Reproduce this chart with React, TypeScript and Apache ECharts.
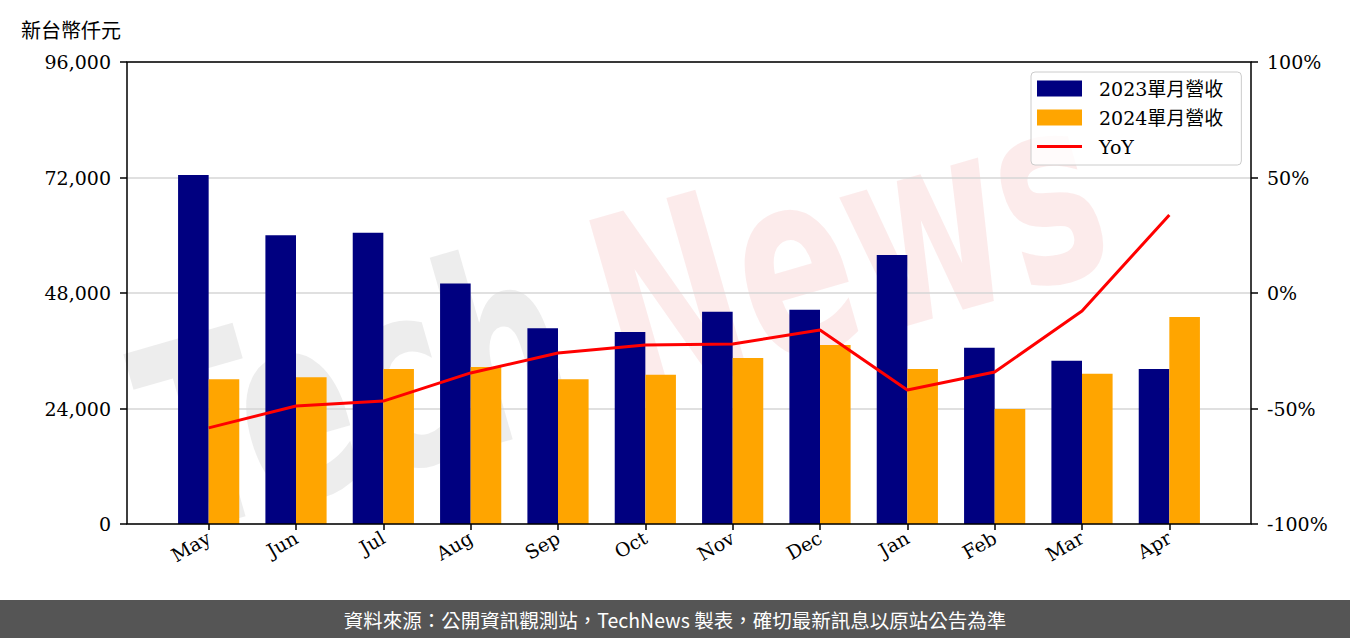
import React, { useEffect, useRef } from "react";
import * as echarts from "echarts";

const months = ["May", "Jun", "Jul", "Aug", "Sep", "Oct", "Nov", "Dec", "Jan", "Feb", "Mar", "Apr"];
const rev2023 = [72500, 60000, 60500, 50000, 40700, 39900, 44100, 44500, 55900, 36600, 33900, 32200];
const rev2024 = [30100, 30500, 32200, 32600, 30100, 31000, 34500, 37200, 32200, 23900, 31200, 43000];
const yoy = [-58.4, -48.9, -46.8, -34.6, -26.0, -22.5, -22.1, -16.0, -42.0, -34.2, -7.8, 33.8];
const leftTicks = { min: 0, max: 96000, interval: 24000 };
const rightTicks = { min: -100, max: 100, interval: 50 };
const seriesNames = ["2023單月營收", "2024單月營收", "YoY"];

const SERIF = "'DejaVu Serif', 'Noto Sans CJK TC', serif";
const SANS = "'Noto Sans CJK TC', 'Noto Sans', sans-serif";

export default function App() {
  const ref = useRef<HTMLDivElement>(null);
  useEffect(() => {
    if (!ref.current) return;
    const chart = echarts.init(ref.current, null, { renderer: "svg" });
    const labelStyle = { fontFamily: SERIF, fontSize: 19, color: "#000" };
    chart.setOption({
      animation: false,
      backgroundColor: "#fff",
      title: {
        text: "新台幣仟元",
        left: 16,
        top: 14,
        textStyle: { fontFamily: SANS, fontSize: 20, fontWeight: "normal", color: "#000" },
      },
      legend: {
        orient: "vertical",
        left: 1031,
        top: 72,
        padding: [7, 18, 9, 6],
        itemWidth: 45,
        itemHeight: 16,
        itemGap: 10,
        backgroundColor: "rgba(255,255,255,0.8)",
        borderColor: "#cccccc",
        borderWidth: 1,
        borderRadius: 4,
        textStyle: { ...labelStyle, padding: [0, 0, 0, 12] },
        data: [
          { name: seriesNames[0], icon: "rect" },
          { name: seriesNames[1], icon: "rect" },
          { name: seriesNames[2], icon: "path://M0,0 L45,0 L45,3 L0,3 Z" },
        ],
      },
      grid: [
        { left: 127, right: 99, top: 62, bottom: 114 },
        { left: 165, right: 137, top: 62, bottom: 114 },
      ],
      xAxis: [
        { gridIndex: 0, type: "value", min: 0, max: 1, show: false },
        {
          gridIndex: 1,
          type: "category",
          data: months,
          axisLine: { show: false },
          axisTick: { show: true, alignWithLabel: true, length: 6, lineStyle: { color: "#000", width: 1.5 } },
          axisLabel: { ...labelStyle, rotate: 30, margin: 12, interval: 0 },
        },
      ],
      yAxis: [
        {
          gridIndex: 0,
          type: "value",
          position: "left",
          ...leftTicks,
          axisLine: { show: false },
          axisTick: { show: true, length: 7, lineStyle: { color: "#000", width: 1.5 } },
          axisLabel: { ...labelStyle, margin: 16, formatter: (v: number) => v.toLocaleString("en-US") },
          splitLine: { show: true, lineStyle: { color: "#d6d6d6", width: 1.5 } },
        },
        {
          gridIndex: 0,
          type: "value",
          position: "right",
          ...rightTicks,
          axisLine: { show: false },
          axisTick: { show: true, length: 7, lineStyle: { color: "#000", width: 1.5 } },
          axisLabel: { ...labelStyle, margin: 16, formatter: (v: number) => `${v}%` },
          splitLine: { show: false },
        },
        { gridIndex: 1, type: "value", ...leftTicks, show: false, splitLine: { show: false } },
        { gridIndex: 1, type: "value", ...rightTicks, show: false, splitLine: { show: false } },
      ],
      series: [
        {
          name: seriesNames[0],
          type: "bar",
          xAxisIndex: 1,
          yAxisIndex: 2,
          data: rev2023,
          barWidth: 30.6,
          barGap: "0%",
          itemStyle: { color: "#000080" },
        },
        {
          name: seriesNames[1],
          type: "bar",
          xAxisIndex: 1,
          yAxisIndex: 2,
          data: rev2024,
          barWidth: 30.6,
          barGap: "0%",
          itemStyle: { color: "#ffa500" },
        },
        {
          name: seriesNames[2],
          type: "line",
          xAxisIndex: 1,
          yAxisIndex: 3,
          data: yoy,
          symbol: "none",
          color: "#ff0000",
          lineStyle: { color: "#ff0000", width: 3 },
          z: 5,
        },
      ],
      graphic: [
        {
          type: "group",
          x: 150,
          y: 450,
          rotation: 0.28,
          z: 50,
          silent: true,
          children: [
            {
              type: "text",
              x: 0,
              y: 0,
              scaleX: 0.65,
              style: {
                text: "Tech",
                font: "bold 260px 'DejaVu Sans'",
                fill: "rgba(110,110,110,0.12)",
                verticalAlign: "middle",
                align: "left",
              },
            },
            {
              type: "text",
              x: 470,
              y: 0,
              scaleX: 0.65,
              style: {
                text: "News",
                font: "bold 260px 'DejaVu Sans'",
                fill: "rgba(220,0,0,0.08)",
                verticalAlign: "middle",
                align: "left",
              },
            },
          ],
        },
        {
          type: "rect",
          z: 100,
          silent: true,
          shape: { x: 127, y: 62, width: 1124, height: 462 },
          style: { fill: "none", stroke: "#000", lineWidth: 1.5 },
        },
        {
          type: "rect",
          z: 100,
          silent: true,
          shape: { x: 0, y: 600, width: 1350, height: 38 },
          style: { fill: "#555555" },
        },
        {
          type: "text",
          z: 101,
          silent: true,
          x: 675,
          y: 619,
          style: {
            text: "資料來源：公開資訊觀測站，TechNews 製表，確切最新訊息以原站公告為準",
            font: `19.5px ${SANS}`,
            fill: "#ffffff",
            align: "center",
            verticalAlign: "middle",
          },
        },
      ],
    });
    return () => chart.dispose();
  }, []);
  return (
    <div
      ref={ref}
      style={{ position: "fixed", left: 0, top: 0, width: 1350, height: 638 }}
    />
  );
}
